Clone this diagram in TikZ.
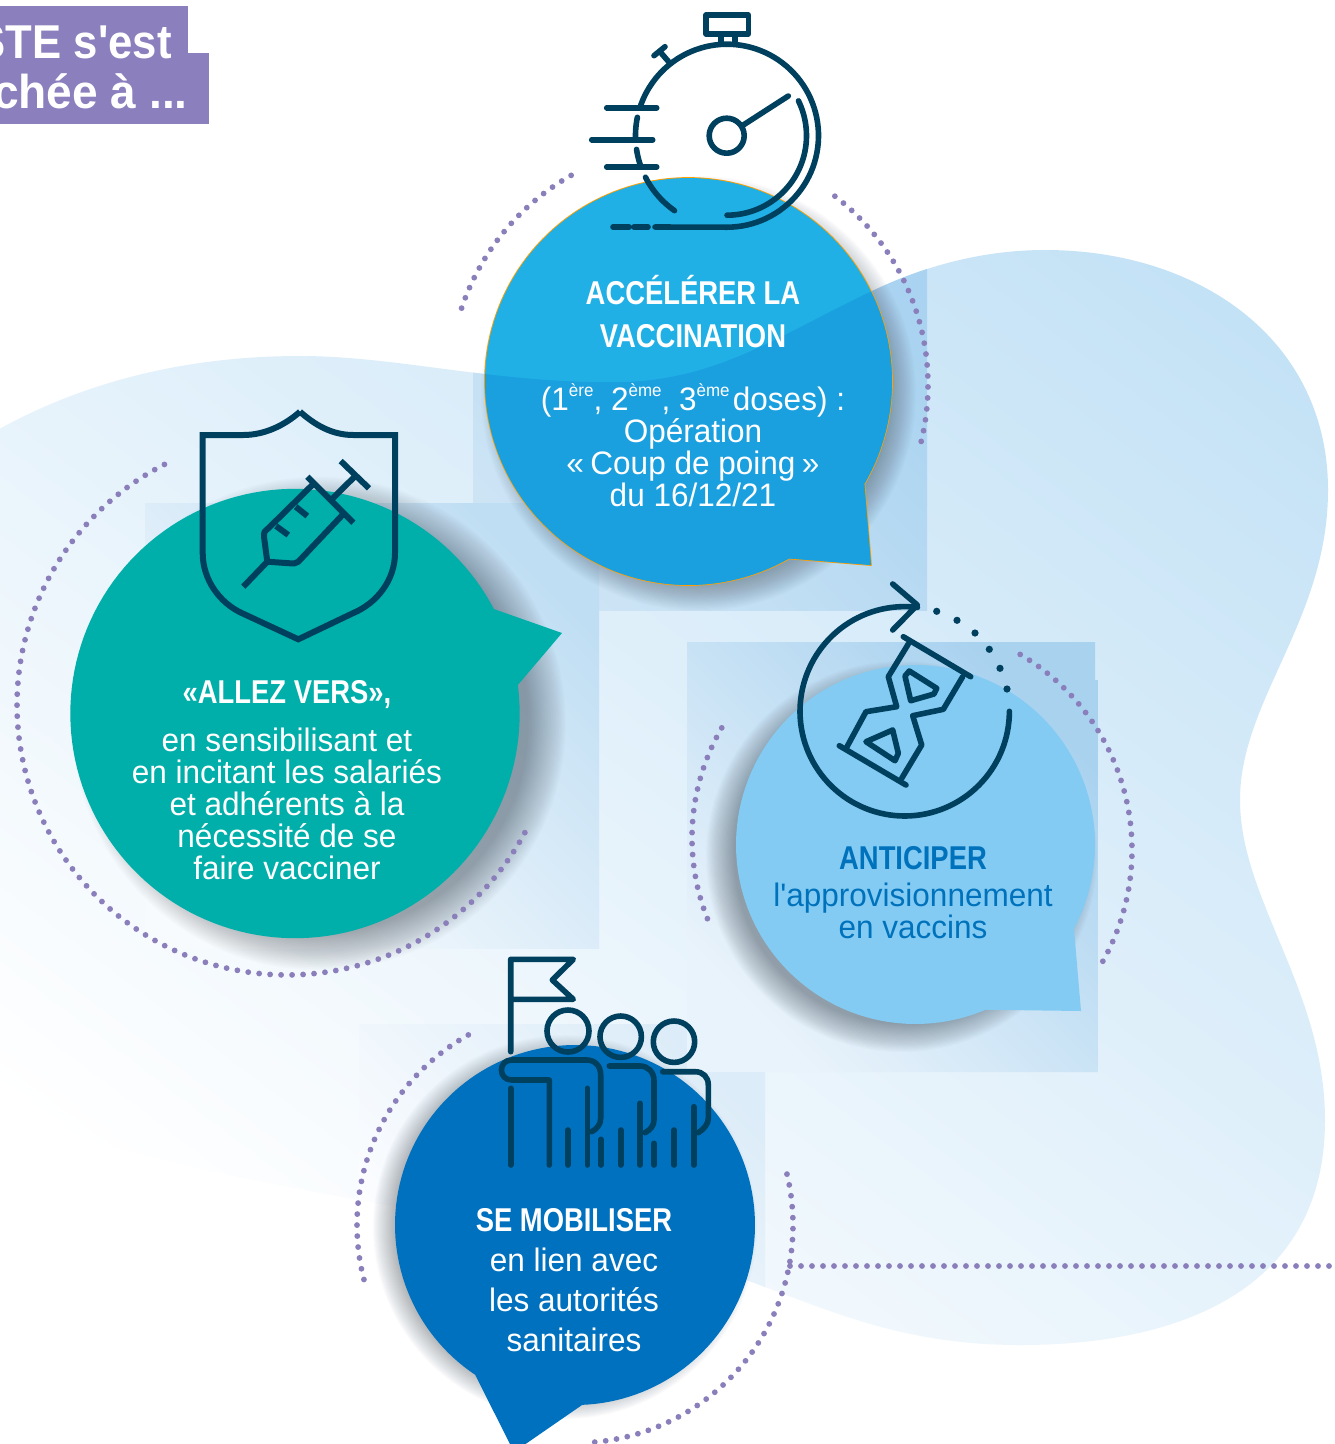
\documentclass[tikz,border=0pt]{standalone}
\usepackage{fontspec}
\newfontfamily\ff[FakeStretch=0.97]{Liberation Sans}
\newfontfamily\ffT[FakeStretch=0.92]{Liberation Sans}
\newfontfamily\hd[FakeStretch=0.83]{Liberation Sans}
\definecolor{iconc}{HTML}{00405F}
\definecolor{dotc}{HTML}{8A7EBB}
\definecolor{titlec}{HTML}{8B7FBD}
\definecolor{shc}{HTML}{2A3540}
\definecolor{bA}{HTML}{20B0E6}
\definecolor{bAd}{HTML}{1A9FDF}
\definecolor{bB}{HTML}{00AFA9}
\definecolor{bC}{HTML}{83CBF2}
\definecolor{bD}{HTML}{0071BE}
\definecolor{txtC}{HTML}{0072BC}
\tikzset{
  icon/.style={draw=iconc,line width=5.6pt,line cap=round,line join=round},
  iconsharp/.style={draw=iconc,line width=6pt,line cap=butt,line join=miter},
  dotline/.style={draw=dotc,line width=5.8pt,line cap=round,dash pattern=on 0pt off 11pt},
  bodytext/.style={align=center,text=white,font=\ff\fontsize{32.5}{32}\selectfont},
  headtext/.style={align=center,text=white,font=\hd\bfseries\fontsize{33}{43}\selectfont},
}
\newcommand\bubpts[7]{plot[domain=#4:#5,samples=150,variable=\t]({#1+#3*cos(\t)},{#2+#3*sin(\t)}) -- (#6,#7) -- cycle}
\newcommand\bubA{\bubpts{688.5}{381.5}{203.5}{60.4}{390.2}{871}{565}}
\newcommand\bubB{\bubpts{295}{713.5}{224.7}{-7.3}{332.3}{562}{633}}
\newcommand\bubC{\bubpts{915.5}{844.5}{179.5}{67}{388}{1081}{1011}}
\newcommand\bubD{\bubpts{575}{1225}{180}{123.7}{447.7}{514}{1452}}
\newcommand\blobpath{(-20,440) .. controls (80,380) and (190,356) .. (300,356)
  .. controls (400,356) and (500,385) .. (627,382)
  .. controls (720,378) and (780,335) .. (868,293)
  .. controls (925,265) and (985,250) .. (1045,250)
  .. controls (1200,250) and (1328,340) .. (1328,490)
  .. controls (1328,620) and (1240,700) .. (1240,800)
  .. controls (1240,900) and (1325,990) .. (1325,1120)
  .. controls (1325,1290) and (1180,1345) .. (1020,1345)
  .. controls (910,1345) and (840,1315) .. (765,1287)
  .. controls (600,1220) and (200,1200) .. (-20,1100) -- cycle}
\newcommand\dotarc[5]{\draw[dotline] plot[domain=#4:#5,samples=90,variable=\t]({#1+#3*cos(\t)},{#2+#3*sin(\t)});}
% soft shadow: stacked translucent discs; centre x, y, smallest radius, radius range, opacity per disc
\newcommand\softshadow[5]{\foreach \w in {0,...,23}{\fill[shc,opacity=#5] (#1,#2) circle[radius={#3+\w/23*#4}];}}
\newcommand\sups[1]{\raisebox{.42em}{\fontsize{17.5}{17.5}\selectfont #1}}
\begin{document}
\begin{tikzpicture}[x=1pt,y=-1pt]
\useasboundingbox (0,0) rectangle (1335,1444);
\fill[white] (0,0) rectangle (1335,1444);
% background blob with the rectangular shadow patches
\definecolor{bgA}{HTML}{FFFFFF}\definecolor{bgB}{HTML}{BEDFF5}
\definecolor{ra}{HTML}{CDE4F5}\definecolor{rb}{HTML}{A9D3F0}
\definecolor{rc}{HTML}{F8FBFE}\definecolor{rd}{HTML}{C0DEF3}
\definecolor{re}{HTML}{E9F3FB}\definecolor{rf}{HTML}{A9D2EF}
\definecolor{rg}{HTML}{FCFDFF}\definecolor{rh}{HTML}{DCECF8}
\begin{scope}
  \clip \blobpath;
  \shade[left color=bgA,right color=bgB,shading angle=143] (-50,-69) rectangle (1450,1431);
  \shade[left color=ra,right color=rb,shading angle=135] (473,240) rectangle (927,610);
  \shade[left color=rc,right color=rd,shading angle=135] (145,503) rectangle (599,948);
  \shade[left color=rg,right color=rh,shading angle=135] (359,1024) rectangle (765,1300);
  \begin{scope}
    \clip (687,642) -- (1095,642) -- (1095,680) -- (1098,680) -- (1098,1072) -- (687,1072) -- cycle;
    \shade[left color=re,right color=rf,shading angle=135] (687,642) rectangle (1098,1072);
  \end{scope}
\end{scope}
% title
\fill[titlec] (0,6) rectangle (188,60);
\fill[titlec] (0,53) rectangle (209,124);
\node[anchor=base east,inner sep=0pt,text=white,font=\ffT\bfseries\fontsize{47.5}{47.5}\selectfont] (t1) at (172,58) {STE s'est};
\node[anchor=base east,inner sep=0pt,text=white,font=\ff\bfseries\fontsize{47.5}{47.5}\selectfont] (t2) at (188,108) {chée à ...};
% shadows
\softshadow{698.5}{393.5}{191.5}{26}{0.014}
\softshadow{319}{723.5}{209.7}{37}{0.02}
\softshadow{901.5}{856.5}{167.5}{28}{0.02}
\softshadow{565}{1227}{170}{22}{0.016}
% bubbles
\draw[draw=orange!75!yellow,line width=1.8pt,line join=round] \bubA;
\fill[bA] \bubA;
\begin{scope}\clip \bubA; \fill[bAd] \blobpath; \end{scope}
\fill[bB] \bubB;
\fill[bC] \bubC;
\fill[bD] \bubD;
% dotted arcs
\dotarc{690}{385}{241}{198.6}{242.2}
\dotarc{690}{385}{238}{-52.5}{15}
\dotarc{287}{705}{270}{243}{26.5}
\dotarc{911}{838}{219}{210.2}{158.3}
\dotarc{905}{850}{227}{-59.5}{31.2}
\dotarc{575}{1225}{218}{240.7}{164.8}
\dotarc{575}{1225}{218}{-13.5}{86}
\coordinate (ha) at (790,1266);
\coordinate (hb) at (1335,1266);
\draw[dotline] (ha) -- (hb);
% stopwatch
\draw[icon] plot[domain=199.4:450,samples=80,variable=\t]({727+91.5*cos(\t)},{135.7+91.5*sin(\t)}) -- (655,227);
\draw[icon] plot[domain=-26:90,samples=50,variable=\t]({727+79.5*cos(\t)},{135.7+79.5*sin(\t)});
\draw[icon] plot[domain=191.6:178,samples=12,variable=\t]({727+91.5*cos(\t)},{135.7+91.5*sin(\t)});
\draw[icon] plot[domain=171.4:160,samples=12,variable=\t]({727+91.5*cos(\t)},{135.7+91.5*sin(\t)});
\draw[icon] plot[domain=153:125,samples=16,variable=\t]({727+91.5*cos(\t)},{135.7+91.5*sin(\t)});
\draw[icon] (613,227) -- (629,227) (634,227) -- (648,227);
\draw[icon] (606.7,107.7) -- (656.7,107.7) (591.7,139.7) -- (652.7,139.7) (606.7,167) -- (656.7,167);
\draw[icon] (726.7,135.7) circle[radius=17.5pt];
\draw[icon] (743.3,125) -- (788.3,96);
\draw[icon] (706,15) rectangle (748.3,34);
\draw[icon,line cap=butt] (720.7,34) -- (720.7,43) (735,34) -- (735,43);
\draw[icon] (654,55.7) -- (665,46.7) (660,51.7) -- (670,63.3);
% shield and syringe
\draw[iconsharp] (300,411.7) .. controls (285,425) and (265,435) .. (243.3,435) -- (202.7,435) -- (202.7,553)
  .. controls (202.7,580) and (220,603) .. (241.7,613) -- (298.3,639.3) -- (353.3,613)
  .. controls (377,603) and (395,580) .. (395,553) -- (395,435) -- (353.3,435)
  .. controls (332,435) and (315,425) .. (300,411.7);
\draw[iconsharp] (243.3,586.7) -- (267.3,561.7) (267.3,561.7) -- (264,536.7) .. controls (263.5,532) and (265,531) .. (268.3,528.3) -- (314,483.3)
  (267.3,561.7) -- (290,563.3) .. controls (294,563.5) and (296,563.5) .. (298.3,561.7) -- (344,513.3)
  (307.3,476.7) -- (353.3,522.7) (331.7,499.3) -- (354,477.3) (340.7,461) -- (369,488.3)
  (276,526) -- (288.3,535) (295.7,506.7) -- (307.3,516);
% hourglass
\draw[icon] plot[domain=277:0,samples=100,variable=\t]({904.7+104.7*cos(\t)},{711.3+104.7*sin(\t)});
\draw[icon] (892.7,584) -- (917.3,605) -- (892.7,630);
\foreach \px/\py in {936.7/611.3,957/620.3,975/633,989.3/649.3,1000/668.3,1007/689}{\fill[iconc] (\px,\py) circle[radius=3.6pt];}
\draw[icon] (903.3,636.7) -- (970.7,676.7) (839.3,745.7) -- (906,785);
\draw[icon] (908.3,644) -- (888.3,676.7) -- (896.7,706.7) -- (866,711.7) -- (846.7,747.3);
\draw[icon] (962.7,676.7) -- (943.3,709.3) -- (912.7,715.7) -- (921.7,745) -- (901.7,778.3);
\draw[icon] (905,676) -- (909.3,671) -- (936.7,688.3) -- (934,694) -- (910.7,700.7) -- cycle;
\draw[icon] (866,741.7) -- (892.7,730) -- (898.3,753.3) -- (895,760.7) -- cycle;
% flag and people
\draw[icon] (510.7,1051.7) -- (510.7,959.3) -- (573.3,959.3) -- (552.3,980) -- (573.3,999.3) -- (510.7,999.3);
\draw[icon] (568,1031) circle[radius=21pt] (620.7,1036.7) circle[radius=20.7pt] (674,1041.7) circle[radius=20.7pt];
\draw[icon] (549.3,1165) -- (549.3,1080) -- (511.7,1080) .. controls (498,1080) and (498,1060) .. (511.7,1060) -- (586.7,1060)
  .. controls (595,1060) and (600.7,1066) .. (600.7,1075) -- (600.7,1118.3) .. controls (600.7,1124) and (597,1129) .. (591.7,1131.7);
\draw[icon] (510.7,1088.3) -- (510.7,1165) (567.7,1130) -- (567.7,1165) (587.3,1088.3) -- (587.3,1165) (601,1139.3) -- (601,1165);
\draw[icon] (609.3,1066) -- (640,1066) .. controls (648,1066) and (654,1072) .. (654,1080.7) -- (654,1120) .. controls (654,1126) and (650,1130) .. (645,1132.7);
\draw[icon] (620.7,1130) -- (620.7,1165) (640,1103.3) -- (640,1165) (654,1143.3) -- (654,1165) (674,1130) -- (674,1165);
\draw[icon] (662.7,1071.7) -- (695,1071.7) .. controls (703,1071.7) and (708.3,1077) .. (708.3,1085) -- (708.3,1118.3) .. controls (708.3,1124) and (704,1129) .. (698.3,1132.7);
\draw[icon] (693.7,1106.7) -- (693.7,1165);
% texts
\node[headtext] (a1) at (693,312) {ACCÉLÉRER LA\\VACCINATION};
\node[bodytext,inner sep=0pt] (a2) at (693,445) {(1\sups{ère}, 2\sups{ème}, 3\sups{ème}\kern.1em doses) :\\Opération\\«\kern.2em Coup de poing\kern.2em »\\du 16/12/21};
\node[headtext] (b1) at (287,695) {«ALLEZ VERS»,};
\node[bodytext,inner sep=0pt] (b2) at (287,804) {en sensibilisant et\\en incitant les salariés\\et adhérents à la\\nécessité de se\\faire vacciner};
\node[headtext,text=txtC] (c1) at (913,858) {ANTICIPER};
\node[bodytext,inner sep=0pt,text=txtC] (c2) at (913,911) {l'approvisionnement\\en vaccins};
\node[headtext] (d1) at (574,1220) {SE MOBILISER};
\node[bodytext,inner sep=0pt,font=\ff\fontsize{32.5}{40}\selectfont] (d2) at (574,1300) {en lien avec\\les autorités\\sanitaires};
\end{tikzpicture}
\end{document}
